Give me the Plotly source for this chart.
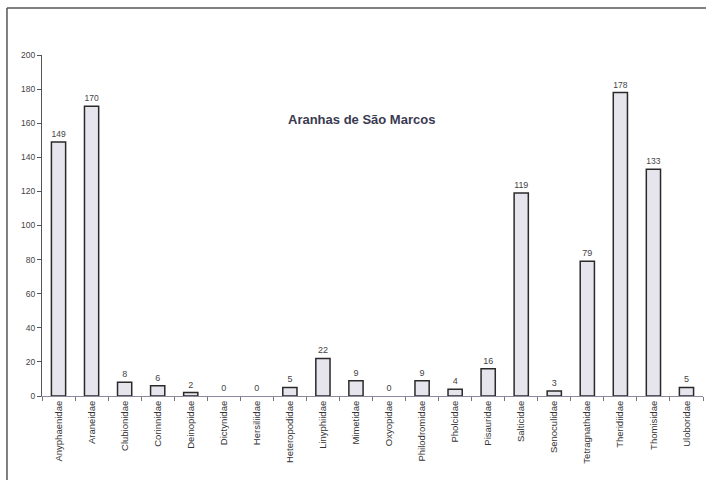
import plotly.graph_objects as go

families = ["Anyphaenidae", "Araneidae", "Clubionidae", "Corinnidae", "Deinopidae",
            "Dictynidae", "Hersiliidae", "Heteropodidae", "Linyphiidae", "Mimetidae",
            "Oxyopidae", "Philodromidae", "Pholcidae", "Pisauridae", "Salticidae",
            "Senoculidae", "Tetragnathidae", "Theridiidae", "Thomisidae", "Uloboridae"]
counts = [149, 170, 8, 6, 2, 0, 0, 5, 22, 9, 0, 9, 4, 16, 119, 3, 79, 178, 133, 5]
y_ticks = [0, 20, 40, 60, 80, 100, 120, 140, 160, 180, 200]

outline_widths = [1.5 if c > 0 else 0 for c in counts]

fig = go.Figure(go.Bar(
    x=families, y=counts,
    marker=dict(color="#e6e4ec", line=dict(color="#2a2a2a", width=outline_widths)),
    text=[str(c) for c in counts], textposition="outside",
    textfont=dict(family="Arial, Liberation Sans", size=9, color="#444"),
    cliponaxis=False,
))

fig.update_layout(
    width=706, height=480,
    margin=dict(l=42, r=3, t=55, b=84),
    paper_bgcolor="white", plot_bgcolor="white",
    bargap=0.57, showlegend=False,
    font=dict(family="Arial, Liberation Sans", size=9, color="#333"),
    xaxis=dict(tickangle=-90, showline=True, linecolor="#8a8aa0", linewidth=1,
               ticks="outside", ticklen=4, tickcolor="#777", tickson="boundaries",
               showgrid=False, tickfont=dict(size=9.5, color="#333")),
    yaxis=dict(range=[0, 200], tickvals=y_ticks, showline=True, linecolor="#555",
               linewidth=1, ticks="outside", ticklen=4, tickcolor="#555",
               showgrid=False, zeroline=False, tickfont=dict(size=8.5, color="#444")),
    annotations=[dict(text="<b>Aranhas de São Marcos</b>", x=0.484, xref="paper",
                      y=162, yref="y", showarrow=False,
                      font=dict(family="Arial, Liberation Sans", size=13, color="#3a3a50"))],
    shapes=[
        dict(type="line", xref="paper", yref="paper", x0=-0.053, x1=-0.053, y0=-0.246, y1=1.138,
             line=dict(color="#555", width=1.5)),
        dict(type="line", xref="paper", yref="paper", x0=-0.053, x1=1.01, y0=1.138, y1=1.138,
             line=dict(color="#555", width=1.5)),
    ],
)

fig.write_html("out.html")
